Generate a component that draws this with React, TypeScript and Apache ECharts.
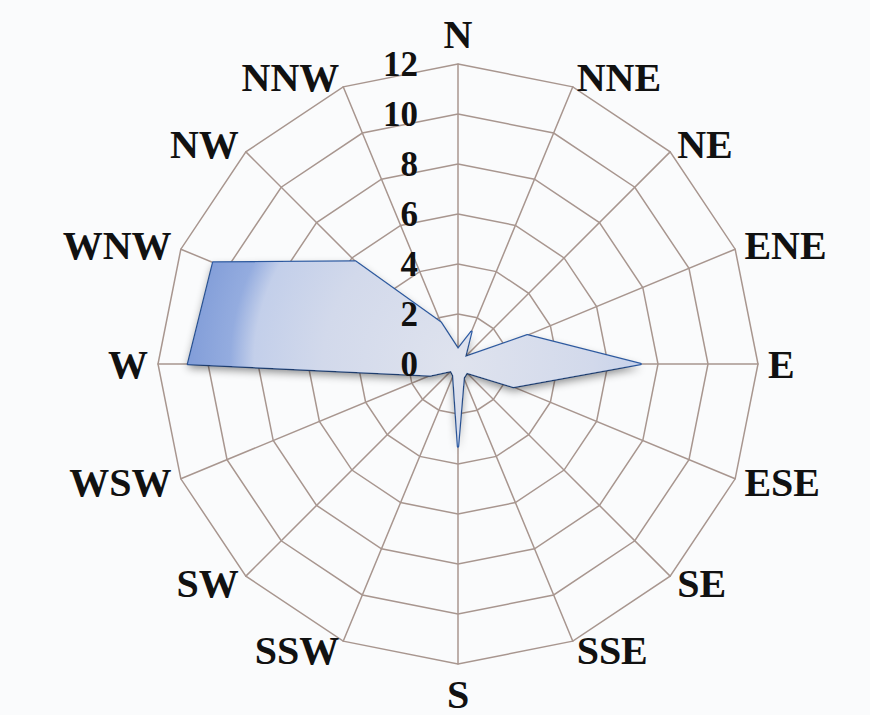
import React, { useEffect, useRef } from "react";
import * as echarts from "echarts";

const directions = ["N", "NNE", "NE", "ENE", "E", "ESE", "SE", "SSE", "S", "SSW", "SW", "WSW", "W", "WNW", "NW", "NNW"];
const windValues = [0.6, 1.4, 0.4, 3.0, 7.3, 2.4, 0.5, 0.6, 3.3, 0.5, 0.4, 1.2, 10.8, 10.6, 5.8, 1.8];
const axisMax = 12;
const ringCount = 6;

export default function App() {
  const ref = useRef<HTMLDivElement>(null);
  useEffect(() => {
    document.body.style.margin = "0";
    const chart = echarts.init(ref.current!, null, { renderer: "svg" });
    const gridColor = "#a8968f";
    const n = directions.length;
    // ECharts radar runs counter-clockwise; reorder so the compass reads clockwise
    const order = directions.map((_, i) => (n - i) % n);
    const names = order.map((k) => directions[k]);
    const vals = order.map((k) => windValues[k]);
    const font = "Liberation Serif, Times New Roman, serif";
    const base = {
      center: [458, 364],
      radius: 300,
      startAngle: 90,
      splitNumber: ringCount,
      shape: "polygon",
    };
    chart.setOption({
      animation: false,
      backgroundColor: "#fafbfc",
      radar: [
        {
          ...base,
          z: 0,
          nameGap: 10,
          axisName: {
            color: "#111",
            fontFamily: font,
            fontWeight: "bold",
            fontSize: 40,
          },
          axisLine: { lineStyle: { color: gridColor, width: 1.5 } },
          splitLine: { lineStyle: { color: gridColor, width: 1.5 } },
          splitArea: { show: false },
          axisLabel: { show: false },
          indicator: names.map((d) => ({ name: d, min: 0, max: axisMax })),
        },
        {
          ...base,
          z: 10,
          axisName: { show: false },
          axisLine: { show: false },
          splitLine: { show: false },
          splitArea: { show: false },
          axisTick: { show: false },
          axisLabel: { show: false },
          indicator: names.map((d, i) => ({
            name: d,
            min: 0,
            max: axisMax,
            ...(i === 0
              ? {
                  axisLabel: {
                    show: true,
                    color: "#111",
                    fontFamily: font,
                    fontWeight: "bold",
                    fontSize: 35,
                    margin: 40,
                    showMinLabel: true,
                  },
                }
              : {}),
          })),
        },
      ],
      series: [
        {
          type: "radar",
          radarIndex: 0,
          z: 2,
          symbol: "none",
          data: [
            {
              value: vals,
              lineStyle: { color: "#2f5ea8", width: 2.5 },
              areaStyle: {
                opacity: 1,
                color: new echarts.graphic.RadialGradient(
                  458,
                  364,
                  300,
                  [
                    { offset: 0, color: "#dfe3ee" },
                    { offset: 0.45, color: "#d2d9eb" },
                    { offset: 0.68, color: "#c3cfea" },
                    { offset: 0.76, color: "#94acdf" },
                    { offset: 1, color: "#7593d4" },
                  ],
                  true
                ),
                shadowColor: "rgba(0,0,0,0.45)",
                shadowBlur: 8,
                shadowOffsetY: 4,
              },
            },
          ],
        },
      ],
    });
    return () => chart.dispose();
  }, []);
  return <div ref={ref} style={{ width: 870, height: 715 }} />;
}
